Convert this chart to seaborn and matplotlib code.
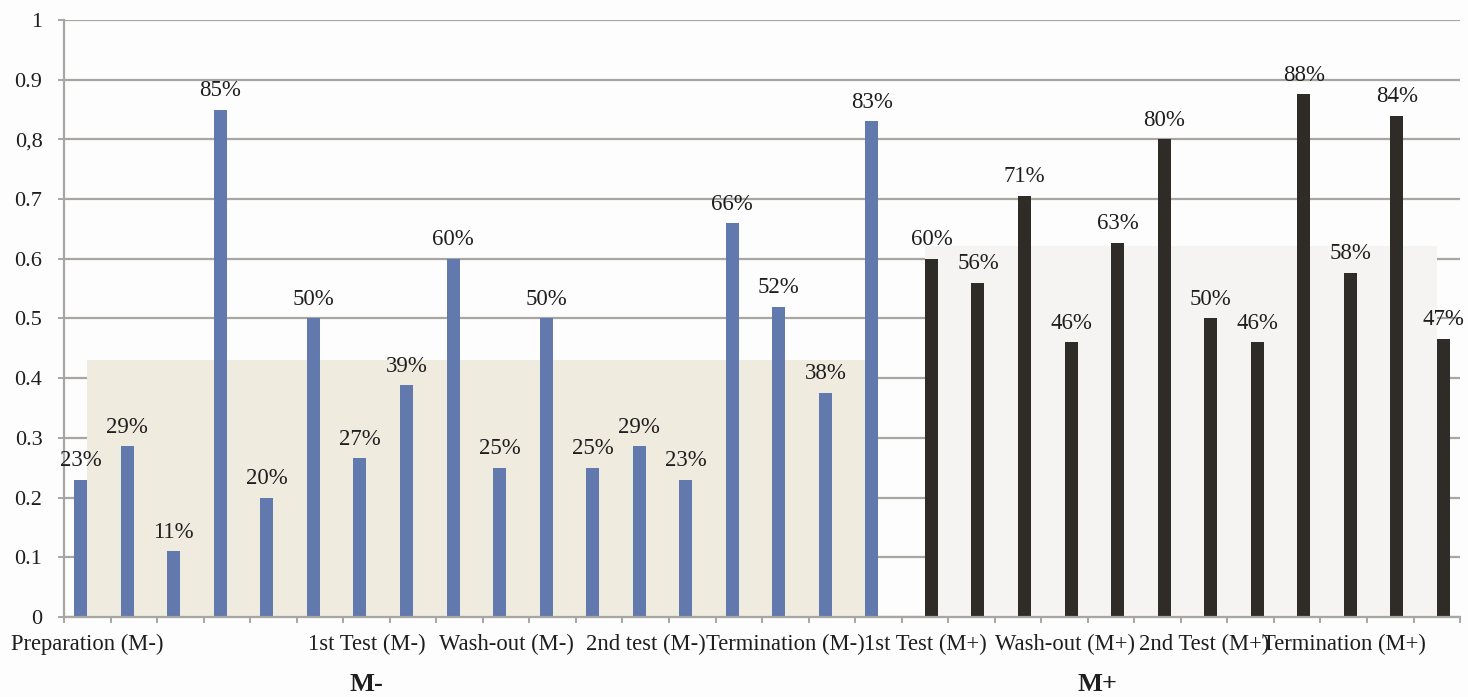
import matplotlib
matplotlib.use("Agg")
import matplotlib.pyplot as plt
import numpy as np
import pandas as pd
import seaborn as sns

# Share of positive responses per measurement, without (M-) and with (M+) the intervention
m_minus = [0.23, 0.286, 0.11, 0.85, 0.20, 0.50, 0.266, 0.388, 0.60,
           0.25, 0.50, 0.25, 0.286, 0.23, 0.66, 0.52, 0.376, 0.83]
m_plus = [0.60, 0.56, 0.706, 0.46, 0.627, 0.80, 0.50, 0.46, 0.876,
          0.577, 0.84, 0.466]

# Phase names on the category axis (one label every third measurement)
phase_labels = ["Preparation (M-)", "", "", "", "", "",
                "1st Test (M-)", "", "", "Wash-out (M-)", "", "",
                "2nd test (M-)", "", "", "Termination (M-)", "", "",
                "1st Test (M+)", "", "", "Wash-out (M+)", "", "",
                "2nd Test (M+)", "", "", "Termination (M+)", "", ""]

y_tick_values = [0, 0.1, 0.2, 0.3, 0.4, 0.5, 0.6, 0.7, 0.8, 0.9, 1.0]
y_tick_labels = ["0", "0.1", "0.2", "0.3", "0.4", "0.5", "0.6", "0.7",
                 "0,8", "0.9", "1"]

# Mean levels shown as shaded bands behind each group
band_m_minus = 0.43
band_m_plus = 0.622

groups = ["M-", "M+"]

df = pd.DataFrame({
    "slot": list(range(len(m_minus) + len(m_plus))),
    "value": m_minus + m_plus,
    "group": ["M-"] * len(m_minus) + ["M+"] * len(m_plus),
})

sns.set_style("white")
plt.rcParams["font.family"] = ["Liberation Serif", "DejaVu Serif"]

fig = plt.figure(figsize=(14.68, 6.97), dpi=100)
fig.patch.set_facecolor("#fdfdfd")
ax = fig.add_axes([0.0436, 0.1148, 0.951, 0.8565])
ax.set_facecolor("#fdfdfd")

grid_col = "#a9a6a2"
text_col = "#1e1e1e"
palette = {"M-": "#6279ad", "M+": "#2f2c28"}

sns.barplot(data=df, x="slot", y="value", hue="group", hue_order=groups,
            palette=palette, width=0.56, dodge=True, saturation=1,
            legend=False, ax=ax, zorder=2, linewidth=0, edgecolor="none")

n = len(df)
ax.set_xlim(-0.5, n - 0.5)
ax.set_ylim(0, 1)

# Shaded mean bands
i0, i1 = 0, len(m_minus) - 1
ax.fill_between([i0, i1], 0, band_m_minus, color="#efebdf", lw=0, zorder=0.8)
j0, j1 = len(m_minus), n - 1
ax.fill_between([j0, j1], 0, band_m_plus, color="#f6f3f3", lw=0, zorder=0.8)

# Value labels
for cont in ax.containers:
    ax.bar_label(cont, fmt=lambda v: f"{v:.0%}", padding=6, fontsize=16.5,
                 color=text_col)

# Grid and axes styling
ax.set_axisbelow(True)
ax.yaxis.grid(True, color=grid_col, lw=1.6, zorder=0.5)
ax.xaxis.grid(False)
for side in ["top", "right"]:
    ax.spines[side].set_visible(False)
for side in ["left", "bottom"]:
    ax.spines[side].set_color(grid_col)
    ax.spines[side].set_linewidth(1.6)

ax.set_yticks(y_tick_values)
ax.set_yticklabels(y_tick_labels, fontsize=16, color=text_col)
ax.tick_params(axis="y", length=4.5, width=1.4, color=grid_col, pad=11,
               left=True, direction="out")

ax.set_xticks(range(n))
ax.set_xticklabels(phase_labels, fontsize=16.3, color=text_col)
ax.set_xticks(np.arange(-0.5, n, 1.0), minor=True)
ax.tick_params(axis="x", which="major", length=0, pad=12)
ax.tick_params(axis="x", which="minor", length=4, width=1.4, color=grid_col,
               bottom=True, direction="out")
ax.set_xlabel("")
ax.set_ylabel("")

# Group titles under the axis
trans = matplotlib.transforms.blended_transform_factory(ax.transData, ax.transAxes)
ax.text(6, -0.113, "M-", transform=trans, ha="center", va="center",
        fontsize=19, fontweight="bold", color=text_col)
ax.text(21.7, -0.113, "M+", transform=trans, ha="center", va="center",
        fontsize=19, fontweight="bold", color=text_col)

fig.savefig("out.png", dpi=100, facecolor=fig.get_facecolor())
